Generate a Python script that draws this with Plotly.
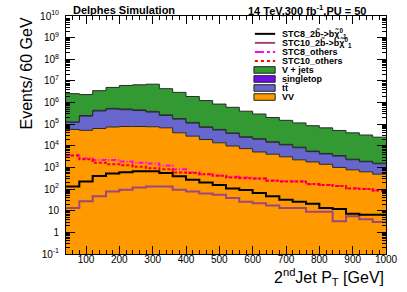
import numpy as np
import plotly.graph_objects as go

# ---------------- data ----------------
bin_edges = list(range(40, 1001, 40))  # 24 bins of 40 GeV

vv = [57000, 52000, 63000, 74000, 78000, 78000, 76000, 68000, 40000, 28000, 19500, 13800,
      9800, 7400, 5200, 4100, 3100, 2250, 1800, 1400, 1000, 780, 630, 490]
ttbar = [66000, 183000, 344000, 426000, 389000, 349000, 288000, 185000, 131000, 85000, 52000, 40000,
         27600, 17400, 14900, 10500, 7900, 5900, 3600, 2800, 2350, 1500, 1200, 1000]
singletop = [5700, 16000, 30000, 37000, 34000, 30000, 25000, 16000, 11000, 7400, 4500, 3500,
             2400, 1500, 1300, 900, 690, 520, 320, 250, 200, 130, 105, 87]
vjets = [2440000, 2090000, 3110000, 4470000, 5670000, 6150000, 6690000, 4100000, 2770000, 1785000, 1155000, 793000,
         563000, 372000, 274000, 188500, 139000, 106000, 79300, 63100, 47800, 37400, 29700, 23500]

stc8_2b = [132, 224, 398, 525, 603, 676, 676, 550, 389, 269, 204, 155,
           107, 91, 66, 47, 32, 26, 21, 13.5, 12, 7.2, 6.5, 6.5]
stc10_2b = [13.5, 27.5, 47, 78, 93, 120, 132, 132, 93, 78, 63, 55,
            39, 26, 22, 17.4, 13.5, 13.2, 9, 9, 3.3, 5.6, 4.0, 3.0]
stc8_others = [3700, 2570, 2240, 2190, 1860, 1660, 1510, 1230, 830, 590, 490, 430,
               370, 340, 310, 250, 230, 230, 166, 155, 138, 110, 102, 87]
stc10_others = [3550, 2400, 1660, 1410, 1260, 1070, 930, 830, 590, 550, 490, 410,
                345, 320, 310, 245, 225, 225, 170, 155, 138, 107, 100, 85]

y_tickvals = [1e-1, 1, 10, 1e2, 1e3, 1e4, 1e5, 1e6, 1e7, 1e8, 1e9, 1e10]
y_ticktext = ["10<sup>-1</sup>", "1", "10", "10<sup>2</sup>", "10<sup>3</sup>", "10<sup>4</sup>",
              "10<sup>5</sup>", "10<sup>6</sup>", "10<sup>7</sup>", "10<sup>8</sup>",
              "10<sup>9</sup>", "10<sup>10</sup>"]
x_tickvals = [100, 200, 300, 400, 500, 600, 700, 800, 900, 1000]

legend_labels = ["STC8_2b\u0303->b\u03c7\u0303<sup>0</sup><sub>1</sub>",
                 "STC10_2b\u0303->b\u03c7\u0303<sup>0</sup><sub>1</sub>",
                 "STC8_others", "STC10_others",
                 "V + jets", "singletop", "t\u0074\u0304", "VV"]

# ---------------- styles ----------------
FONT = "Liberation Sans, Arial, Helvetica, sans-serif"
C_VV = "#ff9900"
C_TT = "#6666cc"
C_ST = "#6f10e8"
C_VJ = "#339933"
C_S8 = "#000000"
C_S10 = "#a0467e"
C_O8 = "#ff00ff"
C_O10 = "#ff0000"

L, R, T, B = 66, 398, 14, 254
W, H = 407, 292


def px_x(p):
    return (p - L) / (R - L)


def px_y(p):
    return (B - p) / (B - T)


def step(vals):
    v = list(vals)
    return v + [v[-1]]


cum1 = np.array(vv, dtype=float)
cum2 = cum1 + np.array(ttbar)
cum3 = cum2 + np.array(singletop)
cum4 = cum3 + np.array(vjets)

fig = go.Figure()

stack = [(cum1, C_VV, "tozeroy"), (cum2, C_TT, "tonexty"),
         (cum3, C_ST, "tonexty"), (cum4, C_VJ, "tonexty")]
for vals, col, fill in stack:
    fig.add_trace(go.Scatter(x=bin_edges, y=step(vals), mode="lines",
                             line=dict(shape="hv", color="#2a2a2a", width=1),
                             fill=fill, fillcolor=col, showlegend=False,
                             hoverinfo="skip"))

signals = [(stc10_2b, C_S10, "solid"), (stc8_2b, C_S8, "solid"),
           (stc8_others, C_O8, "5px,2px,1px,2px"), (stc10_others, C_O10, "3px,2px")]
for vals, col, dash in signals:
    fig.add_trace(go.Scatter(x=bin_edges, y=step(vals), mode="lines",
                             line=dict(shape="hv", color=col, width=2, dash=dash),
                             showlegend=False, hoverinfo="skip"))

# ---------------- custom legend ----------------
shapes = []
annotations = []
row_y0 = 32.0
row_dy = 9.1
line_styles = [(C_S8, "solid"), (C_S10, "solid"), (C_O8, "dashdot"), (C_O10, "dot")]
box_colors = [C_VJ, C_ST, C_TT, C_VV]
for i, lab in enumerate(legend_labels):
    yy = row_y0 + i * row_dy
    if i < 4:
        col, dash = line_styles[i]
        shapes.append(dict(type="line", xref="paper", yref="paper",
                           x0=px_x(262), x1=px_x(283), y0=px_y(yy), y1=px_y(yy),
                           line=dict(color=col, width=2, dash=dash)))
    else:
        col = box_colors[i - 4]
        shapes.append(dict(type="rect", xref="paper", yref="paper",
                           x0=px_x(261), x1=px_x(283), y0=px_y(yy + 3.3), y1=px_y(yy - 3.3),
                           fillcolor=col, line=dict(color="#222222", width=1)))
    annotations.append(dict(text="<b>" + lab + "</b>", xref="paper", yref="paper",
                            x=px_x(288), y=px_y(yy), xanchor="left", yanchor="middle",
                            showarrow=False, font=dict(family=FONT, size=9, color="black")))

annotations += [
    dict(text="<b>Delphes Simulation</b>", xref="paper", yref="paper",
         x=px_x(71), y=px_y(8), xanchor="left", yanchor="middle", showarrow=False,
         font=dict(family=FONT, size=11, color="black")),
    dict(text="<b>14 TeV,300 fb<sup>-1</sup>,PU = 50</b>", xref="paper", yref="paper",
         x=px_x(379), y=px_y(7.5), xanchor="right", yanchor="middle", showarrow=False,
         font=dict(family=FONT, size=11, color="black")),
    dict(text="Events/ 60 GeV", xref="paper", yref="paper",
         x=px_x(25), y=px_y(13), xanchor="center", yanchor="top", textangle=-90,
         showarrow=False, font=dict(family=FONT, size=16, color="black")),
    dict(text="2<sup>nd</sup>Jet P<sub>T</sub> [GeV]", xref="paper", yref="paper",
         x=px_x(398), y=px_y(277), xanchor="right", yanchor="middle",
         showarrow=False, font=dict(family=FONT, size=16, color="black")),
]

fig.update_layout(
    width=W, height=H,
    margin=dict(l=L, r=W - R, t=T, b=H - B, pad=0),
    paper_bgcolor="white", plot_bgcolor="white",
    shapes=shapes, annotations=annotations,
    showlegend=False,
    font=dict(family=FONT, size=10, color="black"),
)
fig.update_xaxes(range=[40, 1000], tickvals=x_tickvals, ticks="inside", ticklen=8,
                 tickcolor="black", tickwidth=1, showline=True, linecolor="black",
                 linewidth=1, mirror="allticks", showgrid=False, zeroline=False,
                 tickfont=dict(family=FONT, size=10), ticklabelstandoff=-4,
                 ticklabeloverflow="allow",
                 minor=dict(dtick=20, tick0=0, ticks="inside", ticklen=4,
                            tickcolor="black", showgrid=False))
fig.update_yaxes(type="log", range=[-1, 10], tickvals=y_tickvals, ticktext=y_ticktext,
                 ticks="inside", ticklen=9, tickcolor="black", tickwidth=1,
                 showline=True, linecolor="black", linewidth=1, mirror="allticks",
                 showgrid=False, zeroline=False, ticklabelstandoff=4,
                 tickfont=dict(family=FONT, size=10),
                 minor=dict(dtick="D1", ticks="inside", ticklen=4,
                            tickcolor="black", showgrid=False))

fig.write_html("out.html", config={"displayModeBar": False},
               post_script="document.body.style.margin='0';document.body.style.overflow='hidden';")
